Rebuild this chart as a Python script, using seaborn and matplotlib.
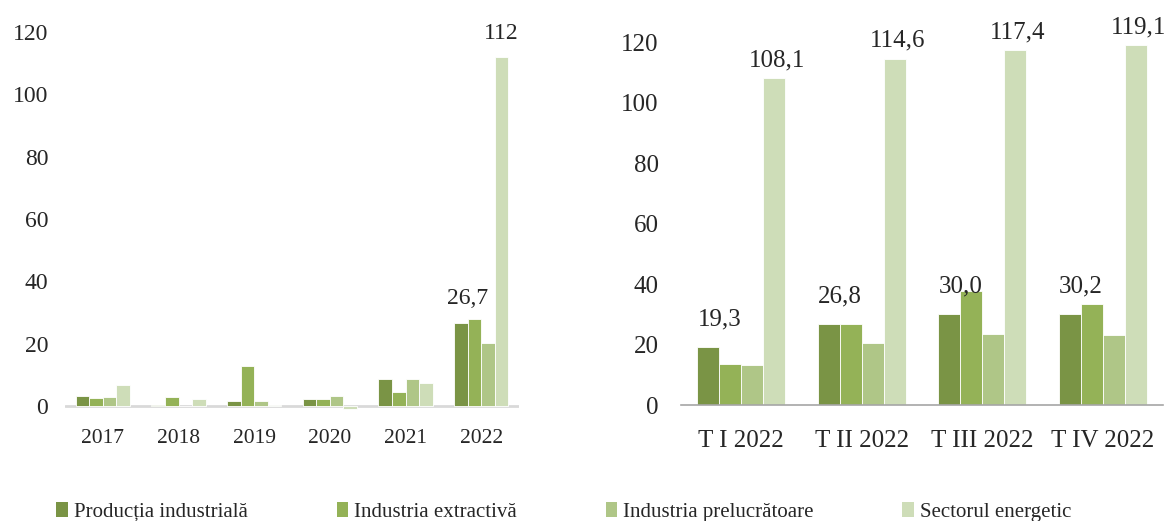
import matplotlib
matplotlib.use("Agg")
import matplotlib.pyplot as plt
import seaborn as sns
import pandas as pd
from matplotlib.patches import Patch

# serii si categorii
serii = ["Producția industrială", "Industria extractivă",
         "Industria prelucrătoare", "Sectorul energetic"]
culori = ["#7A9445", "#94B257", "#AFC687", "#CEDDB8"]

ani = ["2017", "2018", "2019", "2020", "2021", "2022"]
productie_ani = [3.2, 0.3, 1.6, 2.4, 8.5, 26.7]
extractiva_ani = [2.5, 2.8, 12.8, 2.2, 4.4, 28.0]
prelucratoare_ani = [2.9, 0.0, 1.5, 3.3, 8.5, 20.1]
energetic_ani = [6.6, 2.1, 0.2, -0.9, 7.3, 112.0]

trimestre = ["T I 2022", "T II 2022", "T III 2022", "T IV 2022"]
productie_trim = [19.3, 26.8, 30.0, 30.2]
extractiva_trim = [13.7, 26.8, 37.6, 33.3]
prelucratoare_trim = [13.1, 20.4, 23.6, 23.1]
energetic_trim = [108.1, 114.6, 117.4, 119.1]


def tabel(categorii, valori):
    randuri = []
    for s, v in zip(serii, valori):
        for c, x in zip(categorii, v):
            randuri.append({"cat": c, "serie": s, "val": x})
    return pd.DataFrame(randuri)


df_ani = tabel(ani, [productie_ani, extractiva_ani, prelucratoare_ani, energetic_ani])
df_trim = tabel(trimestre, [productie_trim, extractiva_trim, prelucratoare_trim, energetic_trim])

sns.set_style("white")
plt.rcParams["font.family"] = ["Liberation Serif", "DejaVu Serif"]

fig = plt.figure(figsize=(11.65, 5.21), dpi=100)
ax1 = fig.add_axes([0.0558, 0.2088, 0.3897, 0.7537])
ax2 = fig.add_axes([0.5845, 0.2226, 0.4137, 0.754])

# grafic stanga - ani
sns.barplot(data=df_ani, x="cat", y="val", hue="serie", palette=culori,
            hue_order=serii, saturation=1, width=0.72, ax=ax1, legend=False,
            edgecolor="white", linewidth=0.6)
ax1.set_ylim(-2, 124)
ax1.set_xlim(-0.5, 5.5)
ax1.set_yticks([0, 20, 40, 60, 80, 100, 120])
ax1.axhline(0, color="#D9D9D9", lw=2, zorder=0.5)
for sp in ax1.spines.values():
    sp.set_visible(False)
ax1.tick_params(axis="both", length=0)
ax1.tick_params(axis="x", pad=12, labelsize=15.5)
ax1.tick_params(axis="y", pad=12, labelsize=17)
ax1.set_xlabel("")
ax1.set_ylabel("")

# etichete stanga
t = ax1.bar_label(ax1.containers[0], labels=["", "", "", "", "", "26,7"],
                  padding=10, fontsize=17)
for e in t:
    e.xyann = (5, 10)
ax1.bar_label(ax1.containers[3], labels=["", "", "", "", "", "112"],
              padding=9, fontsize=17)

# grafic dreapta - trimestre
sns.barplot(data=df_trim, x="cat", y="val", hue="serie", palette=culori,
            hue_order=serii, saturation=1, width=0.73, ax=ax2, legend=False,
            edgecolor="white", linewidth=0.6)
ax2.set_ylim(0, 130)
ax2.set_xlim(-0.5, 3.5)
ax2.set_yticks([0, 20, 40, 60, 80, 100, 120])
for sp in ["top", "right", "left"]:
    ax2.spines[sp].set_visible(False)
ax2.spines["bottom"].set_color("#A6A6A6")
ax2.spines["bottom"].set_linewidth(1.2)
ax2.set_xticks([-0.5, 0.5, 1.5, 2.5, 3.5], minor=True)
ax2.tick_params(axis="x", which="minor", length=7, width=1.2, color="#A6A6A6",
                direction="out")
ax2.tick_params(axis="x", which="major", length=0, pad=18, labelsize=18)
ax2.tick_params(axis="y", length=0, pad=16, labelsize=18)
ax2.set_xlabel("")
ax2.set_ylabel("")

etich1 = [f"{v:.1f}".replace(".", ",") for v in productie_trim]
etich4 = [f"{v:.1f}".replace(".", ",") for v in energetic_trim]
t1 = ax2.bar_label(ax2.containers[0], labels=etich1, padding=12, fontsize=18)
for e in t1:
    e.xyann = (8, 12)
t4 = ax2.bar_label(ax2.containers[3], labels=etich4, padding=6, fontsize=18)
for e in t4:
    e.xyann = (2, 5)

# legenda
handles = [Patch(facecolor=c, edgecolor="none") for c in culori]
fig.legend(handles, serii, loc="lower center", bbox_to_anchor=(0.484, -0.038),
           ncol=4, frameon=False, fontsize=15, handlelength=0.55,
           handleheight=0.75, handletextpad=0.3, columnspacing=4.25)

fig.savefig("out.png", dpi=100)
